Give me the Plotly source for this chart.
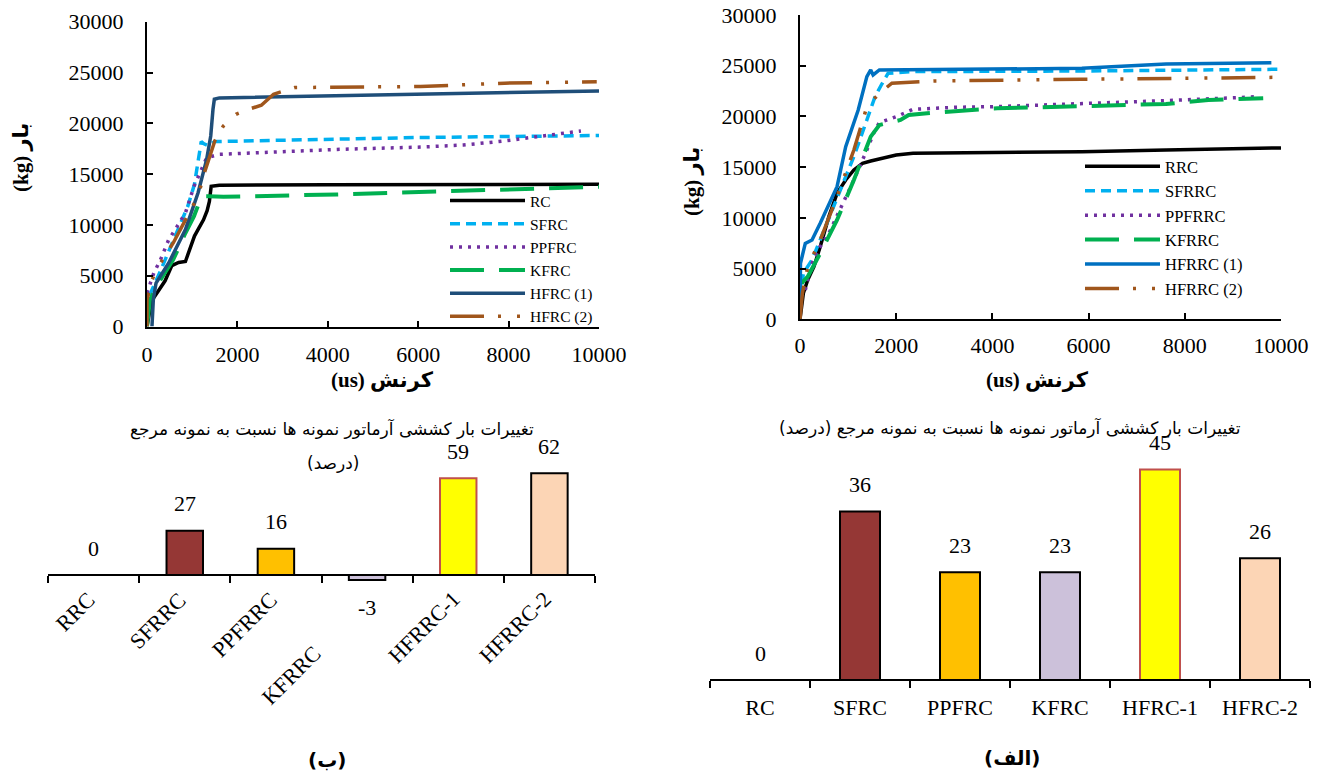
import plotly.graph_objects as go

W, H = 1322, 775

# ---------------- Data: left line chart (ب) ----------------
b_names = ["RC", "SFRC", "PPFRC", "KFRC", "HFRC (1)", "HFRC (2)"]
b_rc_x = [0, 100, 250, 400, 550, 700, 850, 950, 1050, 1150, 1250, 1330, 1380, 1420, 1600, 4000, 7000, 10000]
b_rc_y = [0, 2500, 3500, 4500, 6000, 6300, 6400, 7600, 8900, 9700, 10500, 11400, 12300, 13800, 13900, 13950, 14000, 14000]
b_sf_x = [0, 80, 300, 600, 900, 1050, 1150, 1200, 1250, 1350, 1500, 2500, 4000, 6000, 8000, 10000]
b_sf_y = [1500, 3300, 5500, 8600, 11800, 14000, 16500, 18200, 18000, 17800, 18200, 18300, 18400, 18600, 18700, 18800]
b_pp_x = [0, 150, 300, 480, 670, 850, 1040, 1180, 1320, 1600, 2340, 4200, 6050, 7000, 7900, 8840, 9600]
b_pp_y = [3300, 5260, 6580, 8550, 9870, 11180, 13800, 15130, 16610, 16940, 17100, 17430, 17660, 17860, 18260, 18820, 19240]
b_kf_x = [0, 65, 300, 580, 850, 1040, 1180, 1230, 1360, 1690, 4200, 6050, 7900, 10000]
b_kf_y = [0, 2630, 4600, 6580, 9200, 10860, 12500, 12830, 12830, 12760, 13000, 13220, 13490, 13750]
b_h1_x = [110, 140, 200, 480, 850, 1130, 1320, 1410, 1460, 1490, 1600, 6050, 10000]
b_h1_y = [0, 2630, 4280, 6250, 9540, 13160, 16450, 18750, 21380, 22370, 22500, 22860, 23190]
b_h2_x = [0, 0, 110, 300, 580, 850, 1130, 1270, 1500, 1690, 1970, 2250, 2530, 2800, 3270, 6050, 6980, 7910, 9950]
b_h2_y = [0, 2630, 4600, 6250, 8220, 10530, 12830, 15130, 18260, 19740, 20890, 21380, 21780, 22860, 23520, 23620, 23750, 23950, 24080]

# ---------------- Data: right line chart (الف) ----------------
a_names = ["RRC", "SFRRC", "PPFRRC", "KFRRC", "HFRRC (1)", "HFRRC (2)"]
a_rc_x = [0, 70, 160, 290, 420, 600, 770, 950, 1120, 1300, 1470, 1740, 2000, 2350, 4100, 5860, 7610, 10000]
a_rc_y = [0, 2560, 3880, 5190, 7160, 10120, 12420, 13740, 14720, 15380, 15610, 15870, 16200, 16370, 16430, 16530, 16690, 16900]
a_sf_x = [0, 70, 250, 420, 770, 1120, 1390, 1560, 1690, 1830, 2350, 5860, 10000]
a_sf_y = [1900, 4530, 5850, 7820, 11770, 16040, 19650, 21950, 23100, 24250, 24420, 24480, 24650]
a_pp_x = [110, 250, 420, 600, 860, 1120, 1390, 1560, 1650, 2000, 2350, 3230, 4100, 5860, 7610, 9540]
a_pp_y = [2890, 5520, 7160, 8480, 11110, 13740, 16690, 18670, 19390, 19980, 20700, 20900, 20970, 21230, 21560, 21950]
a_kf_x = [30, 160, 420, 770, 1120, 1390, 1470, 1650, 2090, 2260, 2790, 4100, 5860, 7610, 8490, 9630]
a_kf_y = [3550, 4200, 6510, 9790, 13740, 17020, 18010, 19160, 19650, 20140, 20370, 20800, 21030, 21230, 21620, 21790]
a_h1_x = [0, 10, 110, 250, 420, 770, 950, 1210, 1390, 1470, 1520, 1650, 5860, 7610, 9800]
a_h1_y = [0, 5520, 7490, 7820, 9460, 13080, 17020, 20630, 23920, 24580, 24090, 24580, 24740, 25170, 25300]
a_h2_x = [0, 50, 160, 420, 770, 1120, 1390, 1650, 1910, 2790, 5860, 10000]
a_h2_y = [0, 2560, 5190, 7820, 12090, 16690, 20960, 22280, 23270, 23500, 23660, 23860]

# ---------------- Data: bar charts ----------------
bar_b_cats = ["RRC", "SFRRC", "PPFRRC", "KFRRC", "HFRRC-1", "HFRRC-2"]
bar_b_vals = [0, 27, 16, -3, 59, 62]
bar_a_cats = ["RC", "SFRC", "PPFRC", "KFRC", "HFRC-1", "HFRC-2"]
bar_a_vals = [0, 36, 23, 23, 45, 26]

title_main = "تغییرات بار کششی آرماتور نمونه ها نسبت به نمونه مرجع"
title_pct = "(درصد)"
x_title = "(us) کرنش"
y_title = "(kg) بار"

# ---------------- Styles ----------------
SERIF = "Liberation Serif, DejaVu Sans, serif"
ARAB = "DejaVu Sans, Liberation Serif, sans-serif"
line_colors_b = ["#000000", "#00B0F0", "#7030A0", "#00B050", "#1F4E79", "#A0561C"]
line_colors_a = ["#000000", "#00B0F0", "#7030A0", "#00B050", "#0070C0", "#A0561C"]
dashes = ["solid", "10px,6px", "3px,6px", "34px,15px", "solid", "34px,14px,3px,16px,3px,14px"]
widths = [3.5, 3.5, 3.5, 4, 3.5, 3.5]
bar_fill = ["#FFFFFF", "#953735", "#FFC000", "#CCC1DA", "#FFFF00", "#FCD5B5"]
bar_edge = ["#000000", "#000000", "#000000", "#000000", "#C0504D", "#000000"]


def fx(px):
    return px / W


def fy(py):
    return 1 - py / H


fig = go.Figure()

b_series = [(b_rc_x, b_rc_y), (b_sf_x, b_sf_y), (b_pp_x, b_pp_y), (b_kf_x, b_kf_y), (b_h1_x, b_h1_y), (b_h2_x, b_h2_y)]
a_series = [(a_rc_x, a_rc_y), (a_sf_x, a_sf_y), (a_pp_x, a_pp_y), (a_kf_x, a_kf_y), (a_h1_x, a_h1_y), (a_h2_x, a_h2_y)]

for i, (xs, ys) in enumerate(b_series):
    fig.add_trace(go.Scatter(x=xs, y=ys, mode="lines", name=b_names[i], xaxis="x", yaxis="y",
                             line=dict(color=line_colors_b[i], dash=dashes[i], width=widths[i]),
                             legend="legend"))
for i, (xs, ys) in enumerate(a_series):
    fig.add_trace(go.Scatter(x=xs, y=ys, mode="lines", name=a_names[i], xaxis="x2", yaxis="y2",
                             line=dict(color=line_colors_a[i], dash=dashes[i], width=widths[i]),
                             legend="legend2"))

fig.add_trace(go.Bar(x=bar_b_cats, y=bar_b_vals, xaxis="x3", yaxis="y3", showlegend=False, width=0.4,
                     marker=dict(color=bar_fill, line=dict(color=bar_edge, width=2))))
fig.add_trace(go.Bar(x=bar_a_cats, y=bar_a_vals, xaxis="x4", yaxis="y4", showlegend=False, width=0.4,
                     marker=dict(color=bar_fill, line=dict(color=bar_edge, width=2))))

tickfont = dict(family=SERIF, size=22, color="black")
line_axis = dict(showline=True, linecolor="black", linewidth=2, showgrid=False, zeroline=False,
                 ticks="inside", ticklen=6, tickwidth=2, tickcolor="black", tickfont=tickfont,
                 tickformat="d", automargin=False, ticklabeloverflow="allow")

# domains in page pixels
L_x0, L_x1, L_yb, L_yt = 147, 599, 326.5, 21.7
R_x0, R_x1, R_yb, R_yt = 800, 1281, 319.3, 15.0

B3_x0, B3_x1, B3_axis, B3_unit = 48, 595, 575, 1.64
B3_rng = [-5, 65]
B4_x0, B4_x1, B4_axis, B4_unit = 710, 1310, 680, 4.68
B4_rng = [-2, 47]


def bar_domain(axis_px, unit, rng):
    top = axis_px - rng[1] * unit
    bot = axis_px - rng[0] * unit
    return [fy(bot), fy(top)]


d3 = bar_domain(B3_axis, B3_unit, B3_rng)
d4 = bar_domain(B4_axis, B4_unit, B4_rng)


def zero_pos(d, rng):
    return d[0] + (0 - rng[0]) / (rng[1] - rng[0]) * (d[1] - d[0])


fig.update_layout(
    width=W, height=H, margin=dict(l=0, r=0, t=0, b=0, pad=0, autoexpand=False),
    paper_bgcolor="white", plot_bgcolor="rgba(0,0,0,0)",
    xaxis=dict(domain=[fx(L_x0), fx(L_x1)], range=[0, 10000], tickvals=[0, 2000, 4000, 6000, 8000, 10000],
               anchor="y", ticklabelstandoff=7, **line_axis),
    yaxis=dict(domain=[fy(L_yb), fy(L_yt)], range=[0, 30000], dtick=5000, anchor="x",
               ticklabelstandoff=17, **line_axis),
    xaxis2=dict(domain=[fx(R_x0), fx(R_x1)], range=[0, 10000], tickvals=[0, 2000, 4000, 6000, 8000, 10000],
                anchor="y2", ticklabelstandoff=5, **line_axis),
    yaxis2=dict(domain=[fy(R_yb), fy(R_yt)], range=[0, 30000], dtick=5000, anchor="x2",
                ticklabelstandoff=17, **line_axis),
    xaxis3=dict(domain=[fx(B3_x0), fx(B3_x1)], range=[-0.5, 5.5], type="category", anchor="free",
                position=zero_pos(d3, B3_rng), showline=True, linecolor="black", linewidth=2,
                ticks="outside", tickson="boundaries", ticklen=7, tickwidth=2, tickcolor="black",
                showticklabels=False, showgrid=False, zeroline=False, automargin=False),
    yaxis3=dict(domain=d3, range=B3_rng, visible=False, anchor="x3"),
    xaxis4=dict(domain=[fx(B4_x0), fx(B4_x1)], range=[-0.5, 5.5], type="category", anchor="free",
                position=zero_pos(d4, B4_rng), showline=True, linecolor="black", linewidth=2,
                ticks="outside", tickson="boundaries", ticklen=7, tickwidth=2, tickcolor="black",
                tickfont=tickfont, ticklabelstandoff=8, showgrid=False, zeroline=False, automargin=False),
    yaxis4=dict(domain=d4, range=B4_rng, visible=False, anchor="x4"),
    bargap=0.6,
    legend=dict(x=fx(445), y=fy(184), xanchor="left", yanchor="top", bgcolor="rgba(0,0,0,0)",
                font=dict(family=SERIF, size=15.5, color="black"), itemwidth=75,
                traceorder="normal"),
    legend2=dict(x=fx(1080), y=fy(149), xanchor="left", yanchor="top", bgcolor="rgba(0,0,0,0)",
                 font=dict(family=SERIF, size=16.5, color="black"), itemwidth=75,
                 traceorder="normal"),
)

ann = []
# axis titles of the line charts
for cx, cy in [(382, 380), (1037, 380)]:
    ann.append(dict(text="<b>" + x_title + "</b>", x=fx(cx), y=fy(cy), xref="paper", yref="paper",
                    showarrow=False, font=dict(family=SERIF, size=21, color="black"),
                    xanchor="center", yanchor="middle"))
for cx, cy in [(21, 158), (692, 182)]:
    ann.append(dict(text="<b>" + y_title + "</b>", x=fx(cx), y=fy(cy), xref="paper", yref="paper",
                    showarrow=False, textangle=-90, font=dict(family=SERIF, size=21, color="black"),
                    xanchor="center", yanchor="middle"))

# bar value labels
for cats, vals, xr, yr in [(bar_b_cats, bar_b_vals, "x3", "y3"), (bar_a_cats, bar_a_vals, "x4", "y4")]:
    for c, v in zip(cats, vals):
        ann.append(dict(text=str(v), x=c, y=v, xref=xr, yref=yr, showarrow=False,
                        yshift=27 if v >= 0 else -28, xanchor="center", yanchor="middle",
                        font=dict(family=SERIF, size=22, color="black")))

# rotated category labels for the left bar chart
label_shift = {"KFRRC": (-39, -63)}
for c in bar_b_cats:
    dx, dy = label_shift.get(c, (9, -9))
    ann.append(dict(text=c, x=c, y=0, xref="x3", yref="y3", showarrow=False, textangle=-45,
                    xanchor="right", yanchor="top", xshift=dx, yshift=dy,
                    font=dict(family=SERIF, size=22, color="black")))

# bar chart titles
RLM = "\u200f"
ann.append(dict(text=title_main, x=fx(332), y=fy(429), xref="paper", yref="paper", showarrow=False,
                font=dict(family=ARAB, size=17, color="black"), xanchor="center", yanchor="middle"))
ann.append(dict(text=RLM + title_pct + RLM, x=fx(333), y=fy(463), xref="paper", yref="paper", showarrow=False,
                font=dict(family=ARAB, size=17, color="black"), xanchor="center", yanchor="middle"))
ann.append(dict(text=RLM + title_main + " " + title_pct + RLM, x=fx(1010), y=fy(428), xref="paper",
                yref="paper", showarrow=False, font=dict(family=ARAB, size=17, color="black"),
                xanchor="center", yanchor="middle"))

# panel captions
ann.append(dict(text="<b>(ب)</b>", x=fx(327), y=fy(760), xref="paper", yref="paper", showarrow=False,
                font=dict(family=ARAB, size=20, color="black"), xanchor="center", yanchor="middle"))
ann.append(dict(text="<b>(الف)</b>", x=fx(1012), y=fy(758), xref="paper", yref="paper", showarrow=False,
                font=dict(family=ARAB, size=20, color="black"), xanchor="center", yanchor="middle"))

fig.update_layout(annotations=ann)

# remove the default 8px page margin so the figure fills the 1322x775 window exactly
fig.write_html("out.html",
               config={"displayModeBar": False},
               post_script="document.body.style.margin='0px';document.body.style.overflow='hidden';")
